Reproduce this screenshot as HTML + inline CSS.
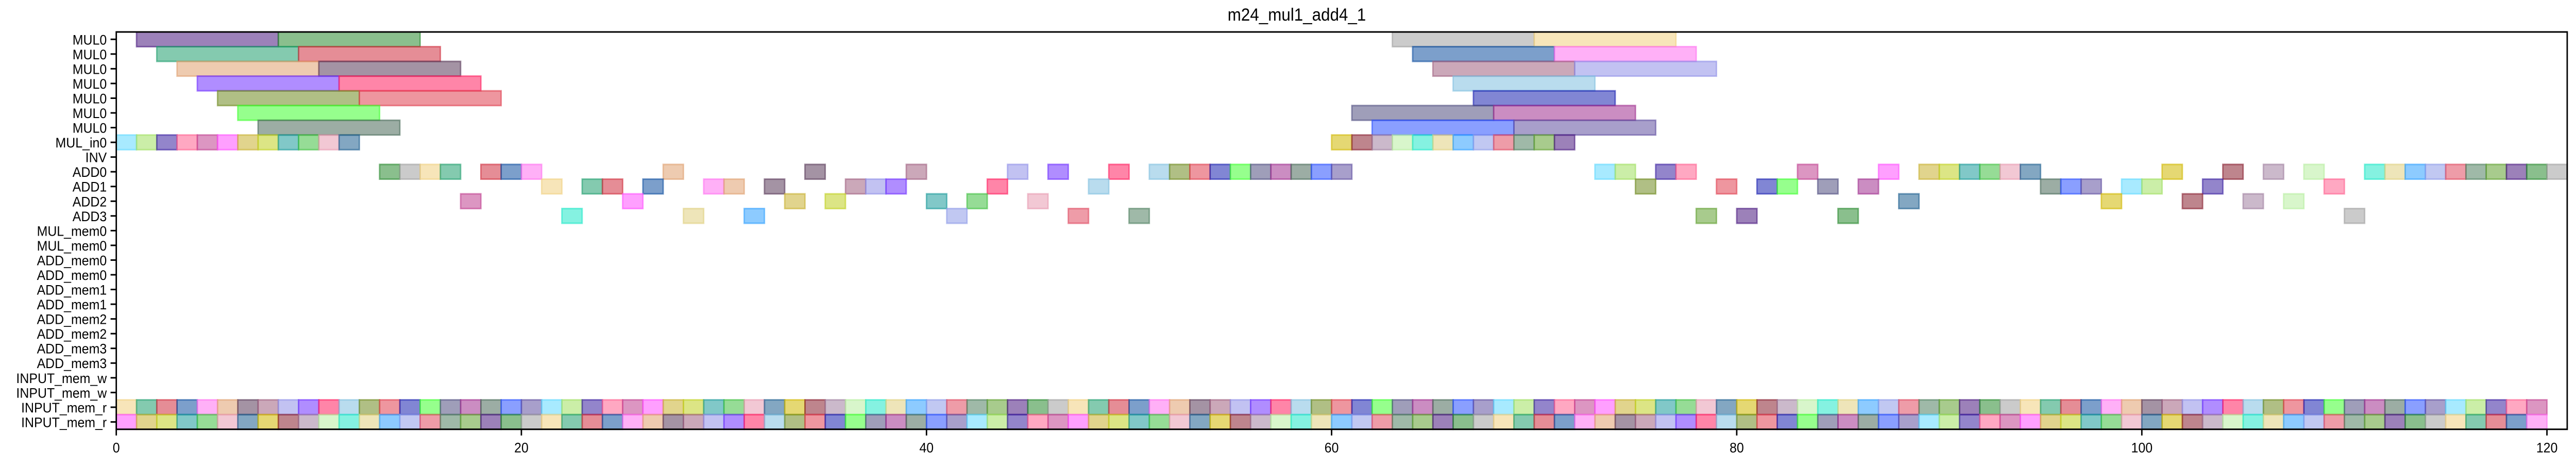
<!DOCTYPE html>
<html><head><meta charset="utf-8"><style>
html,body{margin:0;padding:0;background:#fff;width:100%;height:100%;overflow:hidden;}
svg{display:block;font-family:"Liberation Sans","DejaVu Sans",sans-serif;width:100vw;height:100vh;}
</style></head><body>
<svg id="chart" viewBox="0 0 5417 900" preserveAspectRatio="none" xmlns="http://www.w3.org/2000/svg">
<text x="2727" y="40" font-size="34" text-anchor="middle">m24_mul1_add4_1</text>
<g id="bars"></g>
<g id="axes"></g>
</svg>
<script>
const rowLabels = ["MUL0","MUL0","MUL0","MUL0","MUL0","MUL0","MUL0","MUL_in0","INV","ADD0","ADD1","ADD2","ADD3","MUL_mem0","MUL_mem0","ADD_mem0","ADD_mem0","ADD_mem1","ADD_mem1","ADD_mem2","ADD_mem2","ADD_mem3","ADD_mem3","INPUT_mem_w","INPUT_mem_w","INPUT_mem_r","INPUT_mem_r"];
const xTicks = [0,20,40,60,80,100,120];
// long tasks: [row, start, duration]
const mulTasks = [
 [0,1,7],[0,8,7],[0,63,7],[0,70,7],
 [1,2,7],[1,9,7],[1,64,7],[1,71,7],
 [2,3,7],[2,10,7],[2,65,7],[2,72,7],
 [3,4,7],[3,11,7],[3,66,7],
 [4,5,7],[4,12,7],[4,67,7],
 [5,6,7],[5,61,7],[5,68,7],
 [6,7,7],[6,62,7],[6,69,7]
];
const mulInStarts = [0,1,2,3,4,5,6,7,8,9,10,11,60,61,62,63,64,65,66,67,68,69,70,71];
const add0Starts = [13,14,15,16,18,19,20,27,34,39,44,46,49,51,52,53,54,55,56,57,58,59,60,73,74,76,77,83,87,89,90,91,92,93,94,101,104,106,108,111,112,113,114,115,116,117,118,119,120];
const add1Starts = [21,23,24,26,29,30,32,36,37,38,43,48,75,79,81,82,84,86,95,96,97,99,100,103,109];
const add2Starts = [17,25,33,35,40,42,45,88,98,102,105,107];
const add3Starts = [22,28,31,41,47,50,78,80,85,110];
const inputReadCount = 120;

const X0=244.5, X1=5398.5, XMIN=0, XMAX=121;
const Y0=62, Y1=832.7, YMIN=-0.5, YMAX=26.5;
const xs = v => X0 + (v-XMIN)/(XMAX-XMIN)*(X1-X0);
const ys = r => Y0 + (r-YMIN)/(YMAX-YMIN)*(Y1-Y0);
const palette = ["#1f9e6e","#e89ab0","#1a22b0","#4b1a80","#c8b030","#ff2060","#8e9be8","#3a20a0","#5a3a5a","#b8eea0","#2a50ff","#d03040","#1e5f90","#40ff30","#2a8a30","#c0d020","#80c0e0","#e04a60","#ff6090","#a06080","#20e8c8","#6050a0","#1050a0","#d0b800","#504e80","#a0a0a0","#1a9a9a","#708a20","#508060","#c04090","#9090e8","#e0d080","#60d8ff","#ff70f0","#882030","#a03090","#f0d080","#40c040","#e04050","#60a030","#ff50ff","#7030ff","#30a0ff","#a0e060","#e0a070","#a080a0","#4a6a5a"];
function colorFor(i){ return palette[(i*11+3)%palette.length]; }
const NS="http://www.w3.org/2000/svg";
const bars=document.getElementById('bars');
let ci=0;
function addBar(row,start,dur,name){
  const c=colorFor(ci++);
  const r=document.createElementNS(NS,'rect');
  r.setAttribute('x',xs(start)); r.setAttribute('width',xs(start+dur)-xs(start));
  r.setAttribute('y',ys(row-0.5)); r.setAttribute('height',ys(row+0.5)-ys(row-0.5));
  r.setAttribute('fill',c); r.setAttribute('fill-opacity','0.55');
  r.setAttribute('stroke',c); r.setAttribute('stroke-opacity','0.6'); r.setAttribute('stroke-width','3');
  
  
  bars.appendChild(r);
}
mulTasks.forEach(t=>addBar(t[0],t[1],t[2],'mul-task-bar'));
mulInStarts.forEach(s=>addBar(7,s,1,'mul-in-bar'));
add0Starts.forEach(s=>addBar(9,s,1,'add0-bar'));
add1Starts.forEach(s=>addBar(10,s,1,'add1-bar'));
add2Starts.forEach(s=>addBar(11,s,1,'add2-bar'));
add3Starts.forEach(s=>addBar(12,s,1,'add3-bar'));
for(let i=0;i<inputReadCount;i++){ addBar(25,i,1,'input-read-bar'); }
for(let i=0;i<inputReadCount;i++){ addBar(26,i,1,'input-read-bar'); }

const ax=document.getElementById('axes');
const frame=document.createElementNS(NS,'rect');
frame.setAttribute('x',X0); frame.setAttribute('y',Y0); frame.setAttribute('width',X1-X0); frame.setAttribute('height',Y1-Y0);
frame.setAttribute('fill','none'); frame.setAttribute('stroke','#000'); frame.setAttribute('stroke-width','3');


ax.appendChild(frame);
rowLabels.forEach((lab,i)=>{
  const y=ys(i);
  const l=document.createElementNS(NS,'line');
  l.setAttribute('x1',X0-12); l.setAttribute('x2',X0); l.setAttribute('y1',y); l.setAttribute('y2',y);
  l.setAttribute('stroke','#000'); l.setAttribute('stroke-width','3');
  
  
  ax.appendChild(l);
  const t=document.createElementNS(NS,'text');
  t.setAttribute('x',X0-20); t.setAttribute('y',y+10); t.setAttribute('font-size','27'); t.setAttribute('text-anchor','end');
  t.textContent=lab;
  
  
  ax.appendChild(t);
});
xTicks.forEach(v=>{
  const x=xs(v);
  const l=document.createElementNS(NS,'line');
  l.setAttribute('x1',x); l.setAttribute('x2',x); l.setAttribute('y1',Y1); l.setAttribute('y2',Y1+12);
  l.setAttribute('stroke','#000'); l.setAttribute('stroke-width','3');
  
  
  ax.appendChild(l);
  const t=document.createElementNS(NS,'text');
  t.setAttribute('x',x); t.setAttribute('y',Y1+45); t.setAttribute('font-size','27'); t.setAttribute('text-anchor','middle');
  t.textContent=String(v);
  
  
  ax.appendChild(t);
});
</script>
</body></html>
